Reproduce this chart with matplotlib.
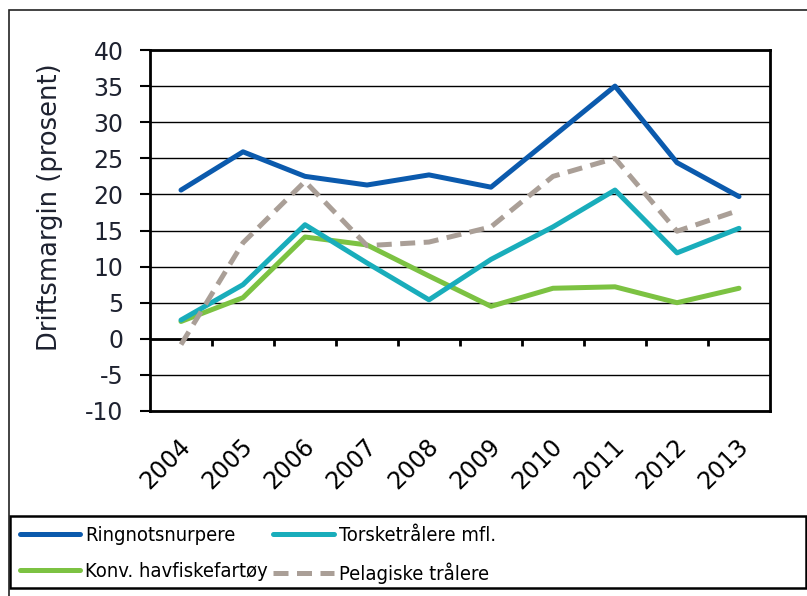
import numpy as np
import matplotlib
matplotlib.use("Agg")
import matplotlib.pyplot as plt
import matplotlib.transforms as mtransforms
from matplotlib.patches import Rectangle

years = ["2004", "2005", "2006", "2007", "2008", "2009", "2010", "2011", "2012", "2013"]
ringnot = [20.6, 25.9, 22.5, 21.3, 22.7, 21.0, 28.0, 35.0, 24.4, 19.7]
torske = [2.6, 7.5, 15.8, 10.5, 5.4, 11.0, 15.5, 20.6, 11.9, 15.3]
konv = [2.4, 5.7, 14.1, 13.0, 8.7, 4.5, 7.0, 7.2, 5.0, 7.0]
pelagisk = [-0.8, 13.3, 21.8, 12.9, 13.4, 15.5, 22.5, 25.0, 14.9, 17.8]

labels = ["Ringnotsnurpere", "Torsketrålere mfl.",
          "Konv. havfiskefartøy", "Pelagiske trålere"]
C_BLUE = "#0b5aad"
C_TEAL = "#19adbb"
C_GREEN = "#7cc242"
C_GRAY = "#aa9f97"

plt.rcParams["font.family"] = "DejaVu Sans"
plt.rcParams["axes.unicode_minus"] = False

W, H = 807, 596
fig = plt.figure(figsize=(W / 100, H / 100), dpi=100)
ax = fig.add_axes([150 / W, 1 - 411 / H, 620 / W, 361 / H])

x = np.arange(len(years))
l_ring, = ax.plot(x, ringnot, color=C_BLUE, lw=3.6, solid_capstyle="round", zorder=5)
l_tors, = ax.plot(x, torske, color=C_TEAL, lw=3.6, solid_capstyle="round", zorder=4)
l_konv, = ax.plot(x, konv, color=C_GREEN, lw=3.6, solid_capstyle="round", zorder=3)
l_pel, = ax.plot(x, pelagisk, color=C_GRAY, lw=3.6, dashes=(3.0, 1.7), zorder=4)

ax.set_xlim(-0.5, len(years) - 0.5)
ax.set_ylim(-10, 40)
ax.set_yticks(np.arange(-10, 41, 5))
ax.grid(axis="y", color="black", lw=1.0)
ax.set_axisbelow(True)

# category axis sits on zero, with ticks between the categories
ax.axhline(0, color="black", lw=2.0, zorder=2)
ax.vlines(x[:-1] + 0.5, -1.0, 0, color="black", lw=2.0, zorder=2)

for side in ["left", "right", "top", "bottom"]:
    ax.spines[side].set_linewidth(2.0)
    ax.spines[side].set_color("black")

ax.tick_params(axis="y", direction="out", length=7, width=1.5, pad=12,
               labelsize=17, labelcolor="#1e2230")
ax.set_xticks(x)
ax.set_xticklabels(years)
ax.tick_params(axis="x", length=0, pad=23, labelsize=17)
shift = mtransforms.ScaledTranslation(4 / 72, 0, fig.dpi_scale_trans)
for lab in ax.get_xticklabels():
    lab.set_rotation(45)
    lab.set_ha("right")
    lab.set_va("center")
    lab.set_rotation_mode("anchor")
    lab.set_transform(lab.get_transform() + shift)

ax.set_ylabel("Driftsmargin (prosent)", fontsize=18.5, color="#1e2230")
ax.yaxis.set_label_coords(-0.14, 0.565)

# legend box below the plot
fig.add_artist(Rectangle((10 / W, 1 - 588 / H), 796 / W, 72 / H,
                         transform=fig.transFigure, fill=False,
                         edgecolor="black", lw=1.8))
fig.legend([l_ring, l_konv, l_tors, l_pel],
           [labels[0], labels[2], labels[1], labels[3]],
           ncol=2, loc="upper left", bbox_to_anchor=(16 / W, 1 - 522 / H),
           frameon=False, borderaxespad=0, borderpad=0.2,
           prop={"family": "DejaVu Sans", "stretch": "condensed", "size": 14.5},
           handlelength=3.0, handletextpad=0.25, columnspacing=0.25,
           labelspacing=0.85)

# outer border of the figure
fig.add_artist(Rectangle((9 / W, -0.05), 1.2, 1.05 - 10 / H,
                         transform=fig.transFigure, fill=False,
                         edgecolor="#222222", lw=1.2))

fig.savefig("out.png", dpi=100)
